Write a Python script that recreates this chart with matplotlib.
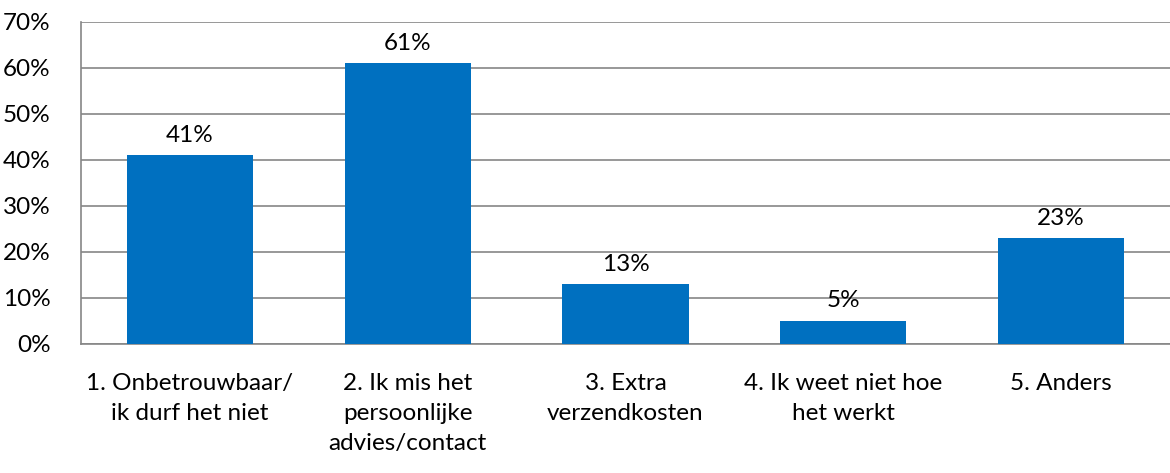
import matplotlib
matplotlib.use('agg')
import matplotlib.pyplot as plt
from matplotlib.ticker import PercentFormatter

categories = ['1. Onbetrouwbaar/\nik durf het niet',
              '2. Ik mis het\npersoonlijke\nadvies/contact',
              '3. Extra\nverzendkosten',
              '4. Ik weet niet hoe\nhet werkt',
              '5. Anders']
values = [41, 61, 13, 5, 23]
labels = ['41%', '61%', '13%', '5%', '23%']

plt.rcParams['font.family'] = ['Lato', 'DejaVu Sans']
FS = 17.5

fig = plt.figure(figsize=(11.7, 4.73), dpi=100)
ax = fig.add_axes([81 / 1170, 1 - 343.5 / 473, (1170 - 81) / 1170, (343.5 - 22) / 473])

xs = range(len(values))
ax.bar(xs, values, width=0.58, color='#0070C0', zorder=3)
for x, v, lab in zip(xs, values, labels):
    ax.text(x, v + 2.0, lab, ha='center', va='bottom', fontsize=FS, color='black')

ax.set_xlim(-0.5, len(values) - 0.5)
ax.set_ylim(0, 70)
ax.set_yticks(range(0, 71, 10))
ax.yaxis.set_major_formatter(PercentFormatter(decimals=0))
ax.set_xticks(list(xs))
ax.set_xticklabels(categories, fontsize=FS, linespacing=1.55, va='top')
ax.tick_params(axis='y', labelsize=FS, length=0, pad=22)
ax.tick_params(axis='x', length=0, pad=21)
ax.grid(axis='y', color='#868686', linewidth=1.2, zorder=0)

for edge in ('top', 'right'):
    ax.spines[edge].set_visible(False)
for edge in ('left', 'bottom'):
    ax.spines[edge].set_color('#868686')
    ax.spines[edge].set_linewidth(1.2)

fig.savefig('out.png', dpi=100)
